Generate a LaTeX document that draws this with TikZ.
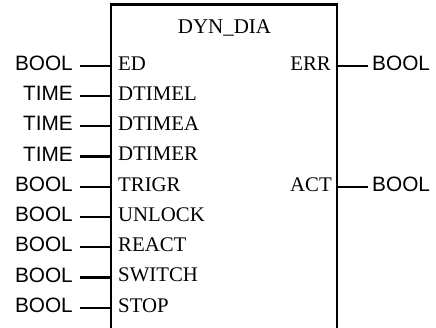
\documentclass[tikz,border=0pt]{standalone}
\usepackage{fontspec}
\setmainfont{Liberation Serif}
\newfontfamily\typefont{Liberation Sans}
\tikzset{
  pinline/.style={line width=2.2pt},
  boxline/.style={line width=2.2pt, line join=miter},
  typ/.style={font=\typefont\fontsize{20.8}{20.8}\selectfont, inner sep=0pt},
  pinlbl/.style={font=\fontsize{20.8}{20.8}\selectfont, inner sep=0pt},
  titlelbl/.style={font=\fontsize{21}{21}\selectfont, inner sep=0pt},
}
\begin{document}
\begin{tikzpicture}[x=1pt,y=-1pt]
\useasboundingbox (0,0) rectangle (436,327);
% block
\coordinate (bl) at (111,330);
\coordinate (tl) at (111,4.5);
\coordinate (tr) at (337.3,4.5);
\coordinate (br) at (337.3,330);
\draw[boxline] (bl) -- (tl) -- (tr) -- (br);
\node[titlelbl] (title) at (224.5,27.5) {DYN\_DIA};
% inputs
\foreach \i/\lbl/\ty in {0/ED/BOOL,1/DTIMEL/TIME,2/DTIMEA/TIME,3/DTIMER/TIME,4/TRIGR/BOOL,5/UNLOCK/BOOL,6/REACT/BOOL,7/SWITCH/BOOL,8/STOP/BOOL}{
  \pgfmathsetmacro{\yy}{65.8+30.25*\i}
  \coordinate (in\i) at (111,\yy);
  \node[pinlbl, anchor=west] (pin\i) at (118,\yy-2.5) {\lbl};
  \node[typ, anchor=east] (ty\i) at (73,\yy-2.5) {\ty};
  \draw[pinline] ([xshift=6.5pt,yshift=-2.5pt]ty\i.east) -- (in\i);
}
% outputs
\coordinate (out0) at (337.3,65.8);
\coordinate (out1) at (337.3,186.8);
\node[pinlbl, anchor=east] (err) at (331,63.3) {ERR};
\node[pinlbl, anchor=east] (act) at (332,184.3) {ACT};
\node[typ, anchor=west] (oty0) at (372,63.3) {BOOL};
\node[typ, anchor=west] (oty1) at (372,184.3) {BOOL};
\draw[pinline] (out0) -- ([xshift=-4pt,yshift=-2.5pt]oty0.west);
\draw[pinline] (out1) -- ([xshift=-4pt,yshift=-2.5pt]oty1.west);
\end{tikzpicture}
\end{document}
